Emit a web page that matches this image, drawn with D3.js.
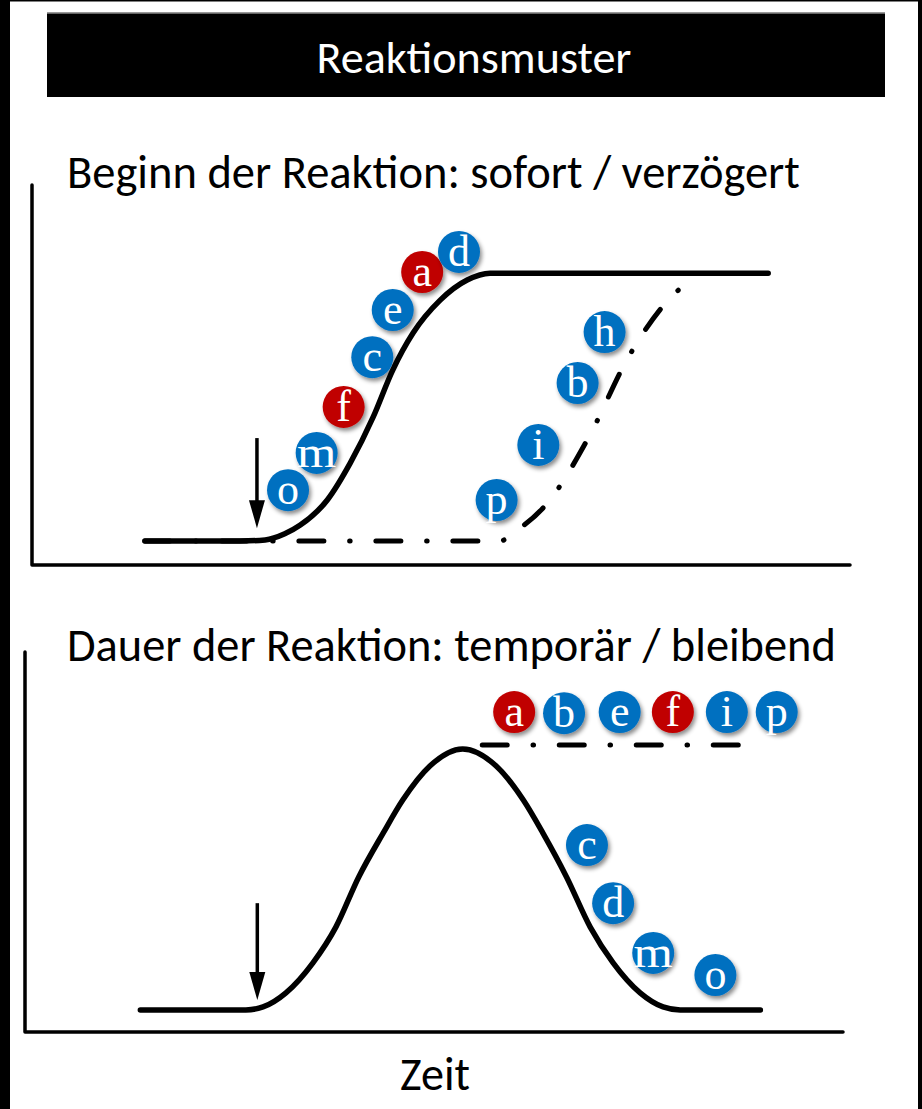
<!DOCTYPE html>
<html><head><meta charset="utf-8">
<script src="https://cdn.jsdelivr.net/npm/d3@7"></script>
<style>html,body{margin:0;padding:0;background:#fff;}svg{display:block;}</style>
</head><body>
<svg id="c" width="922" height="1109"></svg>
<script>
// ---------- DATA (time units 0..10, response units 0..10) ----------
const titleText = "Reaktionsmuster";
const topTitle = "Beginn der Reaktion: sofort / verzögert";
const bottomTitle = "Dauer der Reaktion: temporär / bleibend";
const xLabel = "Zeit";

// top panel: immediate onset (solid) and delayed onset (dash-dot)
const onsetImmediate = [[1.38,0.63],[2.54,0.63],[2.85,0.66],[3.09,0.82],[3.28,1.05],[3.61,1.71],[3.89,2.68],[4.17,3.89],[4.41,5.13],[4.66,6.11],[4.99,6.97],[5.32,7.5],[5.60,7.68],[9.00,7.68]];
const onsetDelayed = [[1.38,0.63],[5.72,0.63],[5.90,0.87],[6.30,1.63],[6.82,3.42],[7.27,5.39],[7.84,7.11],[8.14,7.61]];
const onsetExposure = [2.75, 3.34, 0.97]; // x, arrow start, arrow tip
const onsetBadges = [
  {k:"o",x:3.13,y:1.97,c:"b"},{k:"m",x:3.48,y:2.95,c:"b"},{k:"f",x:3.81,y:4.16,c:"r"},
  {k:"c",x:4.16,y:5.47,c:"b"},{k:"e",x:4.41,y:6.71,c:"b"},{k:"a",x:4.77,y:7.71,c:"r"},
  {k:"d",x:5.22,y:8.24,c:"b"},
  {k:"h",x:7.00,y:6.13,c:"b"},{k:"b",x:6.67,y:4.79,c:"b"},{k:"i",x:6.19,y:3.16,c:"b"},
  {k:"p",x:5.68,y:1.71,c:"b"}
];

// bottom panel: temporary (solid bell) and permanent (dash-dot)
const durationTemporary = [[1.41,0.58],[2.70,0.58],[2.91,0.66],[3.19,1.03],[3.52,1.82],[3.80,2.76],[4.08,4.08],[4.38,5.24],[4.62,6.11],[4.95,7.0],[5.35,7.45],[5.76,7.0],[6.09,6.11],[6.33,5.24],[6.62,4.08],[6.91,2.76],[7.19,1.82],[7.52,1.03],[7.80,0.66],[8.01,0.58],[8.99,0.58]];
const durationPermanent = [[5.59,7.55],[8.80,7.55]];
const durationExposure = [2.84, 3.39, 0.84];
const durationBadges = [
  {k:"a",x:5.98,y:8.42,c:"r"},{k:"b",x:6.59,y:8.39,c:"b"},{k:"e",x:7.27,y:8.42,c:"b"},
  {k:"f",x:7.92,y:8.42,c:"r"},{k:"i",x:8.58,y:8.42,c:"b"},{k:"p",x:9.19,y:8.42,c:"b"},
  {k:"c",x:6.87,y:4.92,c:"b"},{k:"d",x:7.19,y:3.39,c:"b"},{k:"m",x:7.68,y:2.08,c:"b"},
  {k:"o",x:8.44,y:1.50,c:"b"}
];

// ---------- DRAWING ----------
const svg = d3.select("#c");
const colors = {b:"#0070C0", r:"#C00000"};
const titleFont = "Carlito, Lato, 'Open Sans', sans-serif";

const defs = svg.append("defs");
const f = defs.append("filter").attr("id","sh").attr("x","-50%").attr("y","-50%").attr("width","200%").attr("height","200%");
f.append("feDropShadow").attr("dx",2).attr("dy",3).attr("stdDeviation",2).attr("flood-color","#000").attr("flood-opacity",0.45);

// outer frame
svg.append("rect").attr("x",0).attr("y",0).attr("width",10).attr("height",1109).attr("fill","#000");
svg.append("rect").attr("x",918).attr("y",0).attr("width",4).attr("height",1109).attr("fill","#000");
svg.append("rect").attr("x",0).attr("y",0).attr("width",922).attr("height",1.5).attr("fill","#000");

// title bar
svg.append("rect").attr("x",47).attr("y",12).attr("width",838).attr("height",1.5).attr("fill","#999");
svg.append("rect").attr("x",47).attr("y",13.5).attr("width",838).attr("height",83.5).attr("fill","#000");

function fit(sel, target){
  const w = sel.node().getComputedTextLength();
  sel.attr("font-size", parseFloat(sel.attr("font-size"))*target/w);
}
const t0 = svg.append("text").text(titleText).attr("x",474).attr("y",73).attr("text-anchor","middle")
  .attr("fill","#fff").attr("font-family",titleFont).attr("font-size",40);
fit(t0, 315);

function panel(cfg){
  const x = d3.scaleLinear().domain([0,10]).range([cfg.left, cfg.right]);
  const y = d3.scaleLinear().domain([0,10]).range([cfg.bottom, cfg.top]);
  const g = svg.append("g");
  const tt = g.append("text").text(cfg.title).attr("x",67).attr("y",cfg.titleY)
    .attr("fill","#000").attr("font-family",titleFont).attr("font-size",40);
  fit(tt, cfg.titleW);
  // axes
  g.append("path").attr("d", d3.line()([[x(0),y(10)],[x(0),y(0)],[x(10),y(0)]]))
    .attr("fill","none").attr("stroke","#000").attr("stroke-width",3.5).attr("stroke-linecap","round").attr("stroke-linejoin","round");
  const line = d3.line().x(d=>x(d[0])).y(d=>y(d[1])).curve(d3.curveMonotoneX);
  g.append("path").attr("d", line(cfg.dashed)).attr("fill","none").attr("stroke","#000")
    .attr("stroke-width",5).attr("stroke-linecap","round").attr("stroke-dasharray","25 25.75 0.5 25.75");
  g.append("path").attr("d", line(cfg.solid)).attr("fill","none").attr("stroke","#000")
    .attr("stroke-width",5.5).attr("stroke-linecap","round");
  // exposure arrow
  const [ax, a0, a1] = cfg.arrow;
  const ahh = 28, ahw = 8;
  g.append("line").attr("x1",x(ax)).attr("x2",x(ax)).attr("y1",y(a0)).attr("y2",y(a1)-ahh+2)
    .attr("stroke","#000").attr("stroke-width",3.5);
  g.append("path").attr("d", d3.line()([[x(ax)-ahw,y(a1)-ahh],[x(ax)+ahw,y(a1)-ahh],[x(ax),y(a1)]])+"Z").attr("fill","#000");
  // badges
  const bg = g.selectAll("g.badge").data(cfg.badges).join("g").attr("class","badge")
    .attr("transform", d=>`translate(${x(d.x)},${y(d.y)})`);
  bg.append("circle").attr("r",21).attr("fill",d=>colors[d.c]).attr("filter","url(#sh)");
  bg.append("text").text(d=>d.k).attr("y",14).attr("text-anchor","middle").attr("fill","#fff")
    .attr("font-family","'Liberation Serif', 'DejaVu Serif', serif").attr("font-size",44)
    .attr("transform", d=>d.k==="m" ? "scale(1.15,1)" : null);
}

panel({left:32,right:850,bottom:565,top:185,title:topTitle,titleY:188,titleW:733,
  solid:onsetImmediate,dashed:onsetDelayed,arrow:onsetExposure,badges:onsetBadges});
panel({left:25,right:843,bottom:1032,top:652,title:bottomTitle,titleY:661,titleW:769,
  solid:durationTemporary,dashed:durationPermanent,arrow:durationExposure,badges:durationBadges});

const zt = svg.append("text").text(xLabel).attr("x",435).attr("y",1090).attr("text-anchor","middle")
  .attr("fill","#000").attr("font-family",titleFont).attr("font-size",40);
fit(zt, 70);
</script>
</body></html>
